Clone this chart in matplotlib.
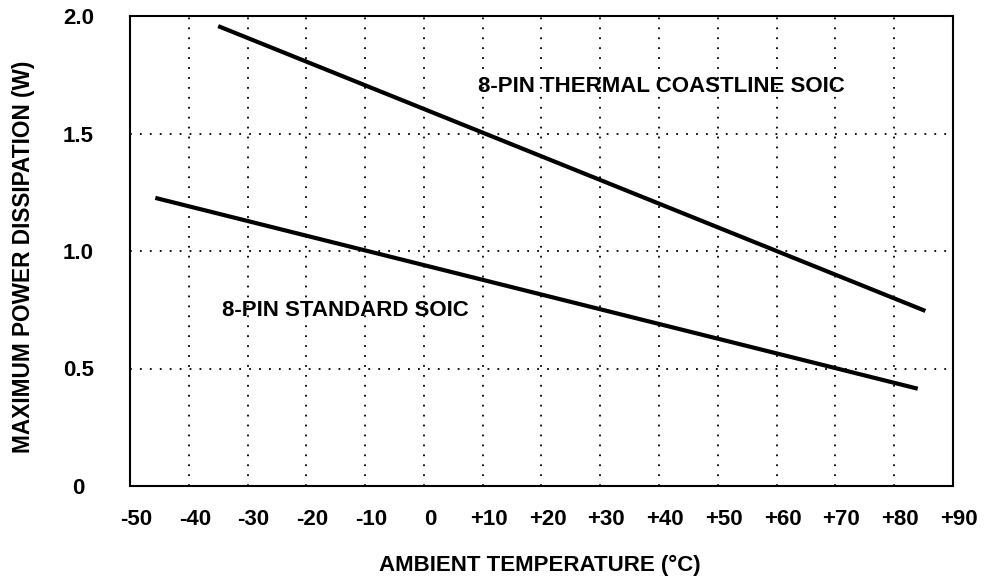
import matplotlib
matplotlib.use("Agg")
import matplotlib.pyplot as plt
import matplotlib.transforms as mtransforms

# Data
thermal_temp = [-35, 85.3]
thermal_power = [1.957, 0.745]
standard_temp = [-45.7, 84.0]
standard_power = [1.226, 0.414]

x_ticks = [-50, -40, -30, -20, -10, 0, 10, 20, 30, 40, 50, 60, 70, 80, 90]
x_tick_labels = ["-50", "-40", "-30", "-20", "-10", "0", "+10", "+20", "+30",
                 "+40", "+50", "+60", "+70", "+80", "+90"]
y_ticks = [0, 0.5, 1.0, 1.5, 2.0]
y_tick_labels = ["0", "0.5", "1.0", "1.5", "2.0"]

plt.rcParams['font.family'] = ['Liberation Sans', 'DejaVu Sans']
plt.rcParams['font.weight'] = 'bold'
FS = 16

W, H = 987, 580
fig = plt.figure(figsize=(W / 100, H / 100), dpi=100)
ax = fig.add_axes([130 / W, 1 - 486 / H, (953 - 130) / W, (486 - 16) / H])

ax.set_xlim(-50, 90)
ax.set_ylim(0, 2.0)

# grid
for xv in x_ticks[1:-1]:
    ax.axvline(xv, color='black', linestyle=(0, (1, 4.5)), linewidth=1.3, zorder=1)
for yv in y_ticks[1:-1]:
    ax.axhline(yv, color='black', linestyle=(0, (1, 4.5)), linewidth=1.3, zorder=1)

ax.plot(thermal_temp, thermal_power, color='black', linewidth=3.0, solid_capstyle='butt', zorder=3)
ax.plot(standard_temp, standard_power, color='black', linewidth=3.0, solid_capstyle='butt', zorder=3)

ax.text(40.4, 1.698, "8-PIN THERMAL COASTLINE SOIC", ha='center', va='center',
        fontsize=FS, fontweight='bold')
ax.text(-13.4, 0.745, "8-PIN STANDARD SOIC", ha='center', va='center',
        fontsize=FS, fontweight='bold')

for s in ax.spines.values():
    s.set_linewidth(1.5)
    s.set_color('black')

ax.set_xticks(x_ticks)
ax.set_xticklabels(x_tick_labels, fontsize=FS, fontweight='bold')
ax.set_yticks(y_ticks)
ax.set_yticklabels(y_tick_labels, fontsize=FS, fontweight='bold')
ax.tick_params(axis='both', length=0)
ax.tick_params(axis='x', pad=16.5)
ax.tick_params(axis='y', pad=37)
for lab in ax.get_yticklabels():
    lab.set_horizontalalignment('center')
offset = mtransforms.ScaledTranslation(6 / 100, 0, fig.dpi_scale_trans)
for lab in ax.get_xticklabels():
    lab.set_transform(lab.get_transform() + offset)

fig.text(540 / W, 1 - 565 / H, "AMBIENT TEMPERATURE (°C)", ha='center', va='center',
         fontsize=FS, fontweight='bold')
fig.text(24 / W, 1 - 257 / H, "MAXIMUM POWER DISSIPATION (W)", ha='center', va='center',
         rotation=90, fontsize=16.3, fontweight='bold')

fig.savefig("out.png", dpi=100, facecolor='white')
